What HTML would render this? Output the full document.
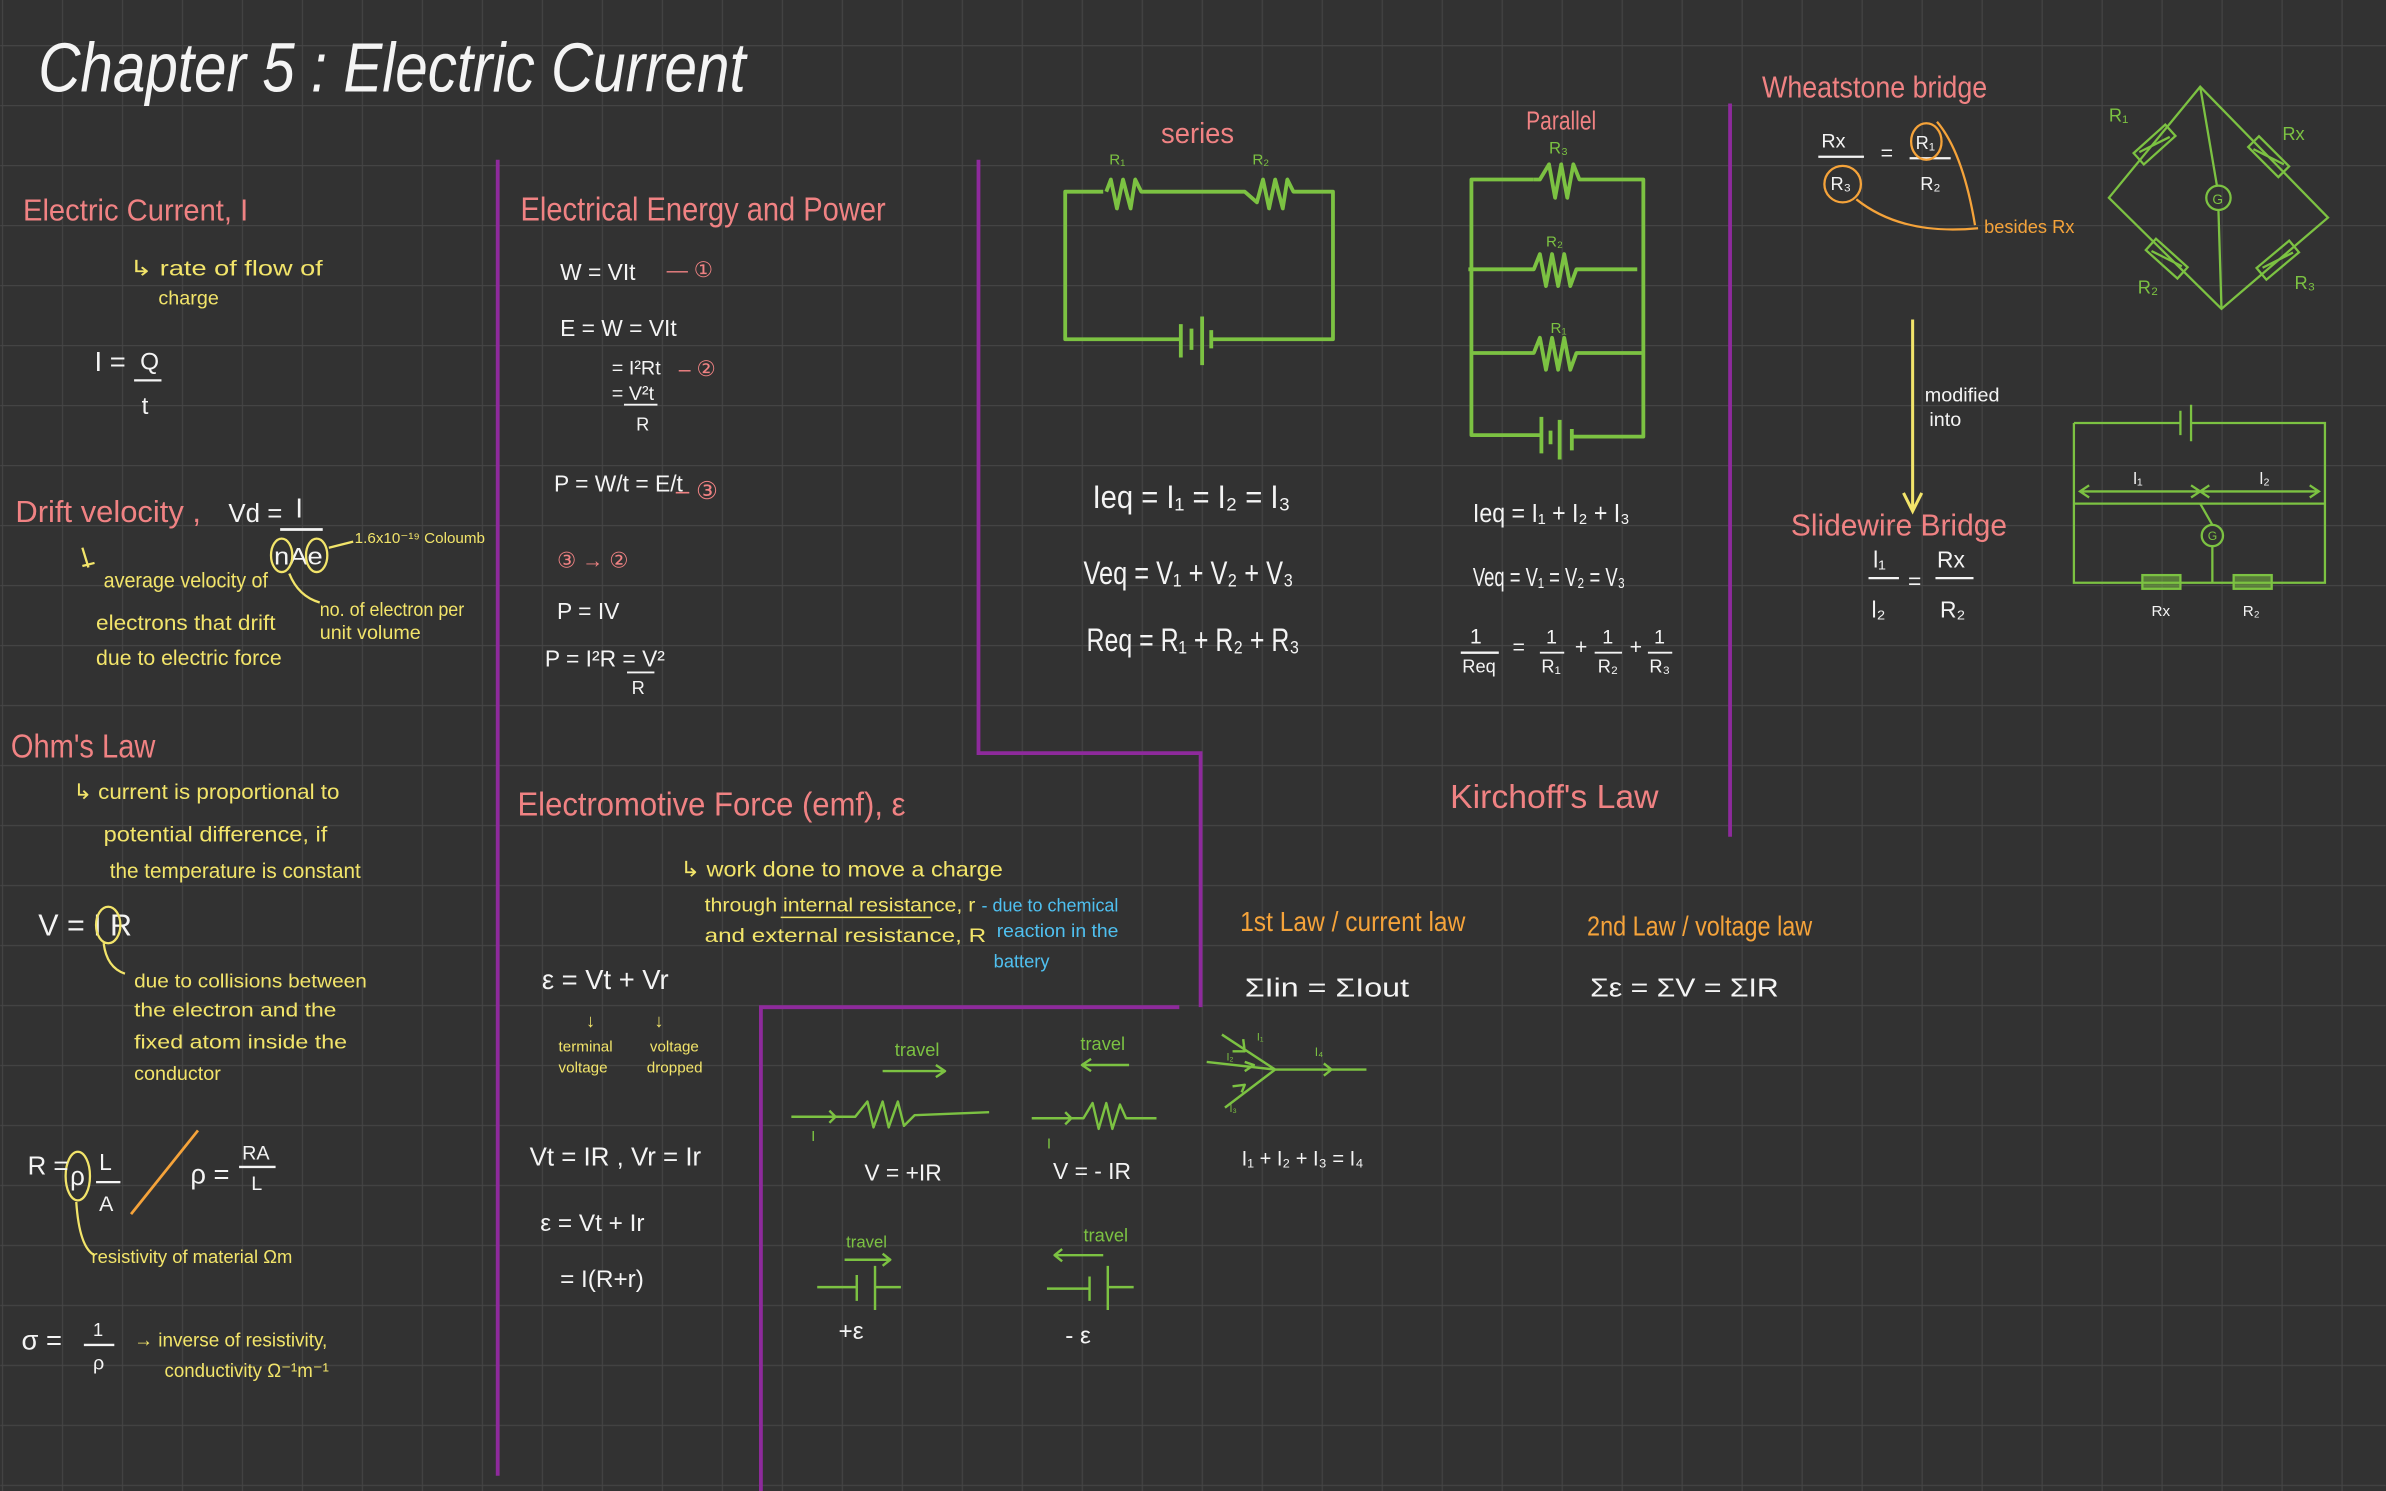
<!DOCTYPE html>
<html><head><meta charset="utf-8"><style>
html,body{margin:0;padding:0;background:#323232;overflow:hidden}
svg{display:block}
text{font-family:"Liberation Sans Narrow","Liberation Sans",sans-serif}
.w{fill:#f4f4f4}.p{fill:#f08283}.y{fill:#f2e46a}.g{fill:#7cc242}.o{fill:#f5a33a}.b{fill:#4fc0f0}
</style></head><body>
<svg width="2386" height="1491" viewBox="0 0 1568 980" xmlns="http://www.w3.org/2000/svg">
<defs>
<pattern id="grid" x="1.1" y="29.6" width="39.43" height="39.43" patternUnits="userSpaceOnUse">
<path d="M0 0H39.43M0 0V39.43" stroke="#444" stroke-width="1.6" fill="none"/>
</pattern>
</defs>
<rect width="1568" height="980" fill="#323232"/>
<rect width="1568" height="980" fill="url(#grid)"/>

<g stroke="#8e2a9c" stroke-width="2.5" fill="none">
<path d="M327 105V970"/>
<path d="M643 105V495H789V662"/>
<path d="M500 980V662H775"/>
<path d="M1137 68V550"/>
</g>

<text x="25" y="60" class="w" font-size="46" textLength="465" lengthAdjust="spacingAndGlyphs" font-style="italic">Chapter 5 : Electric Current</text>

<text x="15" y="145" class="p" font-size="20" textLength="148" lengthAdjust="spacingAndGlyphs">Electric Current, I</text>
<text x="85" y="181" class="y" font-size="14" textLength="127" lengthAdjust="spacingAndGlyphs">↳ rate of flow of</text>
<text x="104" y="200" class="y" font-size="13">charge</text>
<text x="62" y="244" class="w" font-size="18">I =</text>
<text x="92" y="243" class="w" font-size="16">Q</text>
<path d="M88 250H106" stroke="#f4f4f4" stroke-width="1.5"/>
<text x="93" y="272" class="w" font-size="16">t</text>

<text x="10" y="343" class="p" font-size="20" textLength="122" lengthAdjust="spacingAndGlyphs">Drift velocity ,</text>
<text x="150" y="343" class="w" font-size="17">Vd =</text>
<text x="194" y="340" class="w" font-size="18">I</text>
<path d="M184 348H212" stroke="#f4f4f4" stroke-width="1.8"/>
<text x="180" y="371" class="w" font-size="16" textLength="32" lengthAdjust="spacingAndGlyphs">nAe</text>
<g stroke="#f2e46a" stroke-width="1.5" fill="none">
<ellipse cx="185" cy="365" rx="7" ry="11"/><ellipse cx="208" cy="365" rx="7" ry="11"/>
<path d="M216 360L232 356"/><path d="M190 377Q196 392 210 396"/>
<path d="M54 360L58 373M54 372L62 370"/>
</g>
<text x="233" y="357" class="y" font-size="10">1.6x10⁻¹⁹ Coloumb</text>
<text x="68" y="386" class="y" font-size="14" textLength="108" lengthAdjust="spacingAndGlyphs">average velocity of</text>
<text x="63" y="414" class="y" font-size="14" textLength="118" lengthAdjust="spacingAndGlyphs">electrons that drift</text>
<text x="63" y="437" class="y" font-size="14" textLength="122" lengthAdjust="spacingAndGlyphs">due to electric force</text>
<text x="210" y="405" class="y" font-size="13" textLength="95" lengthAdjust="spacingAndGlyphs">no. of electron per</text>
<text x="210" y="420" class="y" font-size="13">unit volume</text>

<text x="7" y="498" class="p" font-size="22" textLength="95" lengthAdjust="spacingAndGlyphs">Ohm's Law</text>
<text x="48" y="525" class="y" font-size="14" textLength="175" lengthAdjust="spacingAndGlyphs">↳ current is proportional to</text>
<text x="68" y="553" class="y" font-size="14" textLength="147" lengthAdjust="spacingAndGlyphs">potential difference, if</text>
<text x="72" y="577" class="y" font-size="14" textLength="165" lengthAdjust="spacingAndGlyphs">the temperature is constant</text>
<text x="25" y="615" class="w" font-size="20">V = I R</text>
<g stroke="#f2e46a" stroke-width="1.5" fill="none">
<ellipse cx="71" cy="608" rx="8" ry="12"/><path d="M68 620Q70 636 82 640"/>
<ellipse cx="51" cy="773" rx="8" ry="16"/><path d="M50 790Q52 820 62 825"/>
</g>
<text x="88" y="649" class="y" font-size="13" textLength="153" lengthAdjust="spacingAndGlyphs">due to collisions between</text>
<text x="88" y="668" class="y" font-size="13" textLength="133" lengthAdjust="spacingAndGlyphs">the electron and the</text>
<text x="88" y="689" class="y" font-size="13" textLength="140" lengthAdjust="spacingAndGlyphs">fixed atom inside the</text>
<text x="88" y="710" class="y" font-size="13">conductor</text>
<text x="18" y="772" class="w" font-size="17">R =</text>
<text x="46" y="779" class="w" font-size="17">ρ</text>
<text x="65" y="769" class="w" font-size="15">L</text>
<path d="M63 777H79" stroke="#f4f4f4" stroke-width="1.5"/>
<text x="65" y="796" class="w" font-size="14">A</text>
<path d="M86 798L130 743" stroke="#f5a33a" stroke-width="1.8"/>
<text x="125" y="778" class="w" font-size="18">ρ =</text>
<text x="159" y="762" class="w" font-size="13">RA</text>
<path d="M157 767H181" stroke="#f4f4f4" stroke-width="1.5"/>
<text x="165" y="782" class="w" font-size="13">L</text>
<text x="60" y="830" class="y" font-size="12" textLength="132" lengthAdjust="spacingAndGlyphs">resistivity of material Ωm</text>
<text x="14" y="887" class="w" font-size="18">σ =</text>
<text x="61" y="878" class="w" font-size="12">1</text>
<path d="M55 884H75" stroke="#f4f4f4" stroke-width="1.5"/>
<text x="61" y="900" class="w" font-size="13">ρ</text>
<text x="88" y="885" class="y" font-size="13" textLength="127" lengthAdjust="spacingAndGlyphs">→ inverse of resistivity,</text>
<text x="108" y="905" class="y" font-size="13" textLength="108" lengthAdjust="spacingAndGlyphs">conductivity Ω⁻¹m⁻¹</text>

<text x="342" y="145" class="p" font-size="22" textLength="240" lengthAdjust="spacingAndGlyphs">Electrical Energy and Power</text>
<text x="368" y="184" class="w" font-size="15">W = VIt</text>
<text x="438" y="182" class="p" font-size="14">— ①</text>
<text x="368" y="221" class="w" font-size="15">E = W = VIt</text>
<text x="402" y="246" class="w" font-size="13">= I²Rt</text>
<text x="446" y="247" class="p" font-size="14">– ②</text>
<text x="402" y="263" class="w" font-size="13">= V²t</text>
<path d="M410 266H432" stroke="#f4f4f4" stroke-width="1.2"/>
<text x="418" y="283" class="w" font-size="12">R</text>
<text x="364" y="323" class="w" font-size="15">P = W/t = E/t</text>
<text x="444" y="328" class="p" font-size="16">– ③</text>
<text x="366" y="373" class="p" font-size="14">③ → ②</text>
<text x="366" y="407" class="w" font-size="15">P = IV</text>
<text x="358" y="438" class="w" font-size="15">P = I²R = V²</text>
<path d="M412 442H430" stroke="#f4f4f4" stroke-width="1.2"/>
<text x="415" y="456" class="w" font-size="12">R</text>

<text x="340" y="536" class="p" font-size="22" textLength="255" lengthAdjust="spacingAndGlyphs">Electromotive Force (emf), ε</text>
<text x="447" y="576" class="y" font-size="14" textLength="212" lengthAdjust="spacingAndGlyphs">↳ work done to move a charge</text>
<text x="463" y="599" class="y" font-size="13" textLength="178" lengthAdjust="spacingAndGlyphs">through internal resistance, r</text>
<path d="M513 603H612" stroke="#f2e46a" stroke-width="1"/>
<text x="463" y="619" class="y" font-size="13" textLength="185" lengthAdjust="spacingAndGlyphs">and external resistance, R</text>
<text x="645" y="599" class="b" font-size="12" textLength="90" lengthAdjust="spacingAndGlyphs">- due to chemical</text>
<text x="655" y="616" class="b" font-size="12" textLength="80" lengthAdjust="spacingAndGlyphs">reaction in the</text>
<text x="653" y="636" class="b" font-size="12">battery</text>
<text x="356" y="650" class="w" font-size="18">ε = Vt + Vr</text>
<text x="385" y="675" class="y" font-size="12">↓</text>
<text x="430" y="675" class="y" font-size="12">↓</text>
<text x="367" y="691" class="y" font-size="10">terminal</text>
<text x="367" y="705" class="y" font-size="10">voltage</text>
<text x="427" y="691" class="y" font-size="10">voltage</text>
<text x="425" y="705" class="y" font-size="10">dropped</text>
<text x="348" y="766" class="w" font-size="17">Vt = IR , Vr = Ir</text>
<text x="355" y="809" class="w" font-size="16">ε = Vt + Ir</text>
<text x="368" y="846" class="w" font-size="16">= I(R+r)</text>

<text x="763" y="94" class="p" font-size="19" textLength="48" lengthAdjust="spacingAndGlyphs">series</text>
<text x="729" y="108" class="g" font-size="10">R₁</text>
<text x="823" y="108" class="g" font-size="10">R₂</text>
<g stroke="#7cc242" stroke-width="2.5" fill="none" stroke-linejoin="round">
<path d="M725 126H700V223H775M776 213V235M783 216V230M790 208V240M796 217V229M797 223H876V126H850L846 118L843 137L838 118L834 137L830 118L826 133L818 126H750L746 118L743 137L738 118L734 137L730 118L727 126"/>
<path d="M1008 118H967V286H1012"/>
<path d="M1013 274V298M1019 283V292M1025 276V302M1033 282V296"/>
<path d="M1033 287H1080V118H1038L1034 108L1030 130L1026 108L1022 130L1018 108L1012 118H1008"/>
<path d="M965 177H1008L1012 167L1016 188L1020 167L1024 188L1028 167L1032 188L1036 177H1076"/>
<path d="M967 232H1008L1012 222L1016 243L1020 222L1024 243L1028 222L1032 243L1036 232H1080"/>
</g>
<text x="1003" y="85" class="p" font-size="17" textLength="46" lengthAdjust="spacingAndGlyphs">Parallel</text>
<text x="1018" y="101" class="g" font-size="11">R₃</text>
<text x="1016" y="162" class="g" font-size="10">R₂</text>
<text x="1019" y="219" class="g" font-size="10">R₁</text>

<text x="718" y="334" class="w" font-size="21" textLength="130" lengthAdjust="spacingAndGlyphs">Ieq = I₁ = I₂ = I₃</text>
<text x="712" y="384" class="w" font-size="21" textLength="138" lengthAdjust="spacingAndGlyphs">Veq = V₁ + V₂ + V₃</text>
<text x="714" y="428" class="w" font-size="21" textLength="140" lengthAdjust="spacingAndGlyphs">Req = R₁ + R₂ + R₃</text>
<text x="968" y="343" class="w" font-size="17" textLength="103" lengthAdjust="spacingAndGlyphs">Ieq = I₁ + I₂ + I₃</text>
<text x="968" y="385" class="w" font-size="17" textLength="100" lengthAdjust="spacingAndGlyphs">Veq = V₁ = V₂ = V₃</text>
<text x="966" y="423" class="w" font-size="14">1</text>
<path d="M960 429H985" stroke="#f4f4f4" stroke-width="1.5"/>
<text x="961" y="442" class="w" font-size="12">Req</text>
<text x="994" y="430" class="w" font-size="14">=</text>
<text x="1016" y="423" class="w" font-size="13">1</text><path d="M1012 429H1028" stroke="#f4f4f4" stroke-width="1.2"/><text x="1013" y="442" class="w" font-size="12">R₁</text>
<text x="1035" y="430" class="w" font-size="14">+</text>
<text x="1053" y="423" class="w" font-size="13">1</text><path d="M1048 429H1066" stroke="#f4f4f4" stroke-width="1.2"/><text x="1050" y="442" class="w" font-size="12">R₂</text>
<text x="1071" y="430" class="w" font-size="14">+</text>
<text x="1087" y="423" class="w" font-size="13">1</text><path d="M1083 429H1099" stroke="#f4f4f4" stroke-width="1.2"/><text x="1084" y="442" class="w" font-size="12">R₃</text>

<text x="953" y="531" class="p" font-size="22" textLength="137" lengthAdjust="spacingAndGlyphs">Kirchoff's Law</text>
<text x="815" y="612" class="o" font-size="18" textLength="148" lengthAdjust="spacingAndGlyphs">1st Law / current law</text>
<text x="1043" y="615" class="o" font-size="18" textLength="148" lengthAdjust="spacingAndGlyphs">2nd Law / voltage law</text>
<text x="818" y="655" class="w" font-size="17" textLength="108" lengthAdjust="spacingAndGlyphs">ΣIin = ΣIout</text>
<text x="1045" y="655" class="w" font-size="17" textLength="124" lengthAdjust="spacingAndGlyphs">Σε = ΣV = ΣIR</text>

<g stroke="#7cc242" stroke-width="1.6" fill="none" stroke-linejoin="round">
<path d="M580 704H621M615 700L621 704L615 708"/>
<path d="M742 700H711M717 696L711 700L717 704"/>
<path d="M520 734H562L570 724L574 741L580 724L584 741L590 724L594 740L601 733L650 731M545 730L549 734L545 738"/>
<path d="M678 735H712L718 725L722 742L727 725L731 742L736 726L740 735H760M700 731L704 735L700 739"/>
<path d="M803 680L838 703L805 728M793 698L838 703H898M817 683L818 691L810 691M818 698L824 700L818 704M816 718L818 713L810 714M870 699L875 703L870 707"/>
<path d="M555 828H585M580 824L585 828L580 832"/>
<path d="M537 846H563M563 838V855M575 832V861M575 846H592"/>
<path d="M725 825H693M698 821L693 825L698 829"/>
<path d="M688 847H716M716 839V855M728 832V861M728 846H745"/>
</g>
<text x="533" y="750" class="g" font-size="10">I</text>
<text x="688" y="755" class="g" font-size="10">I</text>
<text x="588" y="694" class="g" font-size="12">travel</text>
<text x="710" y="690" class="g" font-size="12">travel</text>
<text x="556" y="820" class="g" font-size="11">travel</text>
<text x="712" y="816" class="g" font-size="12">travel</text>
<text x="826" y="684" class="g" font-size="7">I₁</text>
<text x="806" y="697" class="g" font-size="7">I₂</text>
<text x="808" y="731" class="g" font-size="7">I₃</text>
<text x="864" y="694" class="g" font-size="8">I₄</text>
<text x="568" y="776" class="w" font-size="15">V = +IR</text>
<text x="692" y="775" class="w" font-size="15">V = - IR</text>
<text x="816" y="766" class="w" font-size="14" textLength="80" lengthAdjust="spacingAndGlyphs">I₁ + I₂ + I₃ = I₄</text>
<text x="551" y="880" class="w" font-size="16">+ε</text>
<text x="700" y="883" class="w" font-size="16">- ε</text>

<text x="1158" y="64" class="p" font-size="20" textLength="148" lengthAdjust="spacingAndGlyphs">Wheatstone bridge</text>
<text x="1197" y="97" class="w" font-size="13">Rx</text>
<path d="M1195 103H1225M1255 104H1282" stroke="#f4f4f4" stroke-width="1.5"/>
<text x="1236" y="105" class="w" font-size="14">=</text>
<text x="1203" y="125" class="w" font-size="12">R₃</text>
<text x="1259" y="98" class="w" font-size="12">R₁</text>
<text x="1262" y="125" class="w" font-size="12">R₂</text>
<g stroke="#f5a33a" stroke-width="1.5" fill="none">
<circle cx="1211" cy="121" r="12"/><ellipse cx="1266" cy="93" rx="10" ry="12"/>
<path d="M1220 131Q1250 155 1300 150M1273 80Q1290 100 1298 148"/>
</g>
<text x="1304" y="153" class="o" font-size="12">besides Rx</text>
<g stroke="#7cc242" stroke-width="1.5" fill="none">
<path d="M1446 57L1530 143L1460 203L1386 130Z"/>
<path d="M1446 57L1457 122M1458 138L1460 203"/>
<circle cx="1458" cy="130" r="8"/>
<rect x="-14" y="-5" width="28" height="10" transform="translate(1416,95) rotate(-42)"/>
<rect x="-14" y="-5" width="28" height="10" transform="translate(1491,103) rotate(45)"/>
<rect x="-14" y="-5" width="28" height="10" transform="translate(1424,170) rotate(42)"/>
<rect x="-14" y="-5" width="28" height="10" transform="translate(1497,171) rotate(-40)"/>
<path d="M1406 100L1426 90M1481 98L1501 108M1414 165L1434 175M1487 176L1507 166"/>
</g>
<text x="1454" y="134" class="g" font-size="9">G</text>
<text x="1386" y="80" class="g" font-size="12">R₁</text>
<text x="1500" y="92" class="g" font-size="12">Rx</text>
<text x="1405" y="193" class="g" font-size="12">R₂</text>
<text x="1508" y="190" class="g" font-size="12">R₃</text>

<path d="M1257 210V335M1251 324L1257 336L1263 324" stroke="#f2e46a" stroke-width="2" fill="none"/>
<text x="1265" y="264" class="w" font-size="13">modified</text>
<text x="1268" y="280" class="w" font-size="13">into</text>
<text x="1177" y="352" class="p" font-size="20" textLength="142" lengthAdjust="spacingAndGlyphs">Slidewire  Bridge</text>
<text x="1231" y="373" class="w" font-size="15">l₁</text>
<path d="M1228 380H1248M1272 380H1297" stroke="#f4f4f4" stroke-width="1.5"/>
<text x="1230" y="406" class="w" font-size="15">l₂</text>
<text x="1254" y="387" class="w" font-size="15">=</text>
<text x="1273" y="373" class="w" font-size="15">Rx</text>
<text x="1275" y="406" class="w" font-size="15">R₂</text>
<g stroke="#7cc242" stroke-width="1.5" fill="none">
<path d="M1363 278H1433"/>
<path d="M1433 270V286M1440 266V290"/>
<path d="M1440 278H1528V383H1363V278"/>
<path d="M1363 331H1528"/>
<path d="M1367 323H1524M1373 319L1367 323L1373 327M1440 319L1446 323L1440 327M1452 319L1446 323L1452 327M1518 319L1524 323L1518 327"/>
<path d="M1446 331L1454 345M1454 359V383"/>
<circle cx="1454" cy="352" r="7"/>
<rect x="1408" y="378" width="25" height="9" fill="#7cc242" fill-opacity="0.5"/>
<rect x="1468" y="378" width="25" height="9" fill="#7cc242" fill-opacity="0.5"/>
</g>
<text x="1451" y="355" class="g" font-size="8">G</text>
<text x="1402" y="318" class="w" font-size="11">l₁</text>
<text x="1485" y="318" class="w" font-size="11">l₂</text>
<text x="1414" y="405" class="w" font-size="10">Rx</text>
<text x="1474" y="405" class="w" font-size="10">R₂</text>
</svg>
</body></html>
